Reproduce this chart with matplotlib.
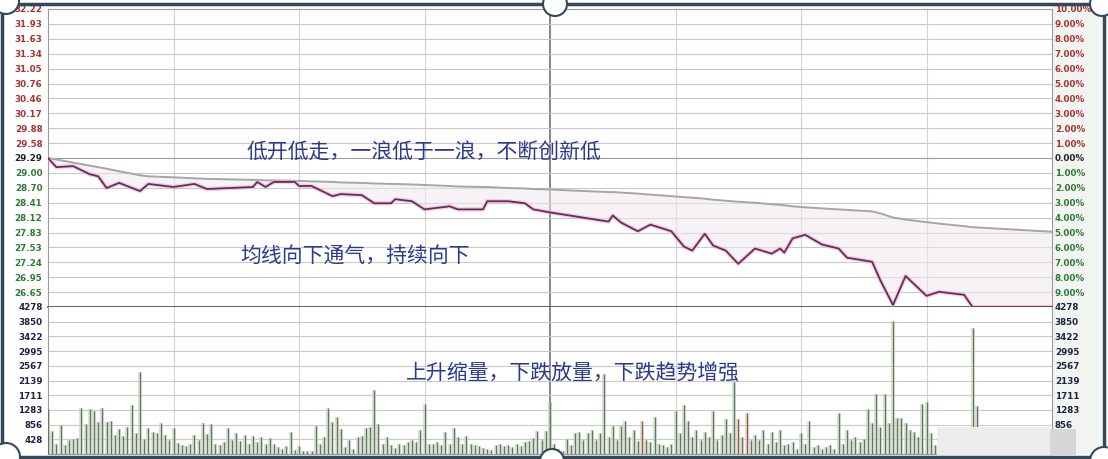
import matplotlib.pyplot as plt
from matplotlib.patches import Circle, Rectangle
import numpy as np

plt.rcParams['font.family'] = ['Noto Sans CJK SC', 'DejaVu Sans']

# intraday chart data
prev_close = 29.29

minutes = [0, 2, 6, 10, 12, 14, 17, 22, 24, 30, 35, 38, 49, 50, 52, 54, 59, 60, 63, 68,
           70, 75, 78, 82, 83, 87, 90, 96, 98, 104, 105, 110, 114, 116, 120, 134, 135, 137,
           141, 144, 149, 152, 154, 157, 159, 162, 165, 169, 173, 175, 176, 178, 181, 185,
           189, 191, 197, 199, 202, 205, 210, 213, 219, 221, 240]
price = [29.29, 29.11, 29.13, 28.97, 28.93, 28.70, 28.80, 28.64, 28.78, 28.72, 28.78, 28.68,
         28.72, 28.82, 28.72, 28.82, 28.82, 28.74, 28.74, 28.54, 28.58, 28.56, 28.40, 28.40,
         28.48, 28.44, 28.28, 28.34, 28.28, 28.28, 28.44, 28.44, 28.40, 28.28, 28.22, 28.04,
         28.16, 28.02, 27.85, 27.98, 27.85, 27.55, 27.47, 27.80, 27.57, 27.47, 27.21, 27.51,
         27.41, 27.51, 27.43, 27.71, 27.78, 27.59, 27.51, 27.33, 27.25, 26.88, 26.40, 26.97,
         26.58, 26.66, 26.60, 26.36, 26.36]
avg_price = [29.29, 29.26, 29.20, 29.14, 29.11, 29.08, 29.03, 28.95, 28.93, 28.91, 28.89,
             28.88, 28.86, 28.86, 28.85, 28.85, 28.84, 28.84, 28.83, 28.82, 28.81, 28.80,
             28.79, 28.78, 28.78, 28.77, 28.76, 28.74, 28.73, 28.72, 28.72, 28.70, 28.69,
             28.68, 28.67, 28.62, 28.62, 28.61, 28.59, 28.57, 28.54, 28.52, 28.51, 28.49,
             28.47, 28.45, 28.43, 28.41, 28.38, 28.37, 28.36, 28.34, 28.32, 28.30, 28.28,
             28.27, 28.24, 28.20, 28.12, 28.08, 28.03, 28.00, 27.95, 27.93, 27.84]

vol = [
    1310, 670, 300, 840, 250, 420, 440, 460, 1340, 870,
    1310, 1250, 930, 1340, 930, 960, 560, 730, 520, 790,
    1430, 600, 2390, 440, 760, 650, 600, 900, 560, 420,
    760, 330, 260, 230, 300, 550, 420, 900, 580, 870,
    300, 260, 350, 760, 420, 600, 380, 560, 300, 520,
    340, 500, 280, 460, 280, 200, 160, 220, 640, 120,
    240, 100, 90, 80, 820, 300, 500, 1340, 930, 1080,
    730, 200, 400, 150, 500, 520, 760, 800, 1870, 870,
    300, 500, 250, 180, 300, 260, 350, 400, 350, 700,
    1460, 300, 280, 350, 260, 640, 300, 760, 500, 280,
    520, 300, 250, 230, 180, 150, 120, 260, 300, 240,
    250, 200, 280, 230, 340, 380, 460, 660, 400, 660,
    1500, 300, 150, 100, 440, 250, 600, 640, 420, 600,
    700, 400, 600, 2330, 500, 815, 400, 815, 960, 500,
    700, 380, 960, 400, 350, 1080, 300, 250, 200, 300,
    1240, 600, 1430, 960, 500, 700, 400, 650, 500, 1240,
    400, 550, 1010, 600, 2090, 1010, 500, 1200, 400, 550,
    400, 700, 300, 650, 350, 700, 250, 300, 350, 150,
    600, 300, 960, 200, 250, 150, 200, 250, 150, 1200,
    300, 700, 400, 500, 350, 450, 1300, 900, 1750, 800,
    1750, 900, 3870, 1050, 1050, 900, 700, 650, 500, 1450,
    1500, 600, 250, 200, 300, 200, 250, 200, 150, 200,
    300, 3660, 1400, 80, 70, 80, 60, 70, 80, 60,
    70, 60, 80, 70, 60, 70, 60, 80, 70, 60,
    90,
]
red_bars = [142, 165, 167]

price_labels = ['32.22', '31.93', '31.63', '31.34', '31.05', '30.76', '30.46', '30.17',
                '29.88', '29.58', '29.29', '29.00', '28.70', '28.41', '28.12', '27.83',
                '27.53', '27.24', '26.95', '26.65']
pct_labels = ['10.00%', '9.00%', '8.00%', '7.00%', '6.00%', '5.00%', '4.00%', '3.00%',
              '2.00%', '1.00%', '0.00%', '1.00%', '2.00%', '3.00%', '4.00%', '5.00%',
              '6.00%', '7.00%', '8.00%', '9.00%']
vol_ticks = [4278, 3850, 3422, 2995, 2567, 2139, 1711, 1283, 856, 428]

note_top = '低开低走，一浪低于一浪，不断创新低'
note_mid = '均线向下通气，持续向下'
note_vol = '上升缩量，下跌放量，下跌趋势增强'

W, H = 1108, 460
fig = plt.figure(figsize=(W / 100, H / 100), dpi=100)
fig.patch.set_facecolor('white')

L, R = 48 / W, 1052 / W
top, mid, bot = 1 - 10 / H, 1 - 308 / H, 1 - 455 / H
ax_p = fig.add_axes([L, mid, R - L, top - mid])
ax_v = fig.add_axes([L, bot, R - L, mid - bot])

# right label column background
fig.patches.append(Rectangle((1052, 5), 50, 450, transform=None, facecolor='#f2f4f1',
                             edgecolor='none', zorder=-1))

levels = [prev_close * (1 + k / 100) for k in range(10, -11, -1)]
ax_p.set_ylim(levels[-1], levels[0])
ax_v.set_ylim(0, vol_ticks[0])
for ax in (ax_p, ax_v):
    ax.set_xlim(0, 240)
    ax.set_xticks([])
    ax.set_yticks([])
    for s in ax.spines.values():
        s.set_color('#9a9a9a')
        s.set_linewidth(0.8)
    for m in range(30, 240, 30):
        if m == 120:
            ax.axvline(m, color='#666666', lw=1.1, zorder=1)
        else:
            ax.axvline(m, color='#d2d2d2', lw=0.8, zorder=1)
ax_p.spines['bottom'].set_color('#555555')
ax_p.spines['bottom'].set_linewidth(1.3)
ax_v.spines['top'].set_visible(False)

for i, lv in enumerate(levels[1:-1]):
    ax_p.axhline(lv, color='#9c9c9c' if i == 9 else '#c9c9c9', lw=0.8, zorder=1)
for v in vol_ticks[1:]:
    ax_v.axhline(v, color='#c9c9c9', lw=0.8, zorder=1)

# price + average lines
ax_p.fill_between(minutes, price, avg_price, color='#f1e9ed', alpha=0.55, lw=0, zorder=2)
ax_p.plot(minutes, avg_price, color='#a6a6a6', lw=1.4, zorder=3)
ax_p.plot(minutes, price, color='#e3b9cf', lw=3.2, alpha=0.6, zorder=3)
ax_p.plot(minutes, price, color='#6b2a5c', lw=1.3, zorder=4)

# volume bars
x = np.arange(len(vol))
ax_v.vlines(x, 0, vol, color='#c3dcbd', lw=3.0, alpha=0.7, zorder=2)
cols = ['#b04848' if i in red_bars else '#6e6e6e' for i in x]
ax_v.vlines(x, 0, vol, colors=cols, lw=0.9, zorder=3)

# axis labels (left / right columns)
def lab_color(i):
    if i < 10:
        return '#a83232'
    if i == 10:
        return '#222222'
    return '#2f7a35'

fs = 6.3
for i, (lv, t) in enumerate(zip(levels[:-1], price_labels)):
    ax_p.annotate(t, (0, lv), xycoords=('axes fraction', 'data'), xytext=(-4, 0),
                  textcoords='offset points', ha='right', va='center', fontsize=fs,
                  fontweight='bold', color=lab_color(i), family='DejaVu Sans')
for i, (lv, t) in enumerate(zip(levels[:-1], pct_labels)):
    ax_p.annotate(t, (1, lv), xycoords=('axes fraction', 'data'), xytext=(2, 0),
                  textcoords='offset points', ha='left', va='center', fontsize=fs,
                  fontweight='bold', color=lab_color(i), family='DejaVu Sans')
for i, v in enumerate(vol_ticks):
    ax_v.annotate(str(v), (0, v), xycoords=('axes fraction', 'data'), xytext=(-4, 0),
                  textcoords='offset points', ha='right', va='center', fontsize=fs,
                  fontweight='bold', color='#1e2440', family='DejaVu Sans')
    if v != vol_ticks[-1]:
        ax_v.annotate(str(v), (1, v), xycoords=('axes fraction', 'data'), xytext=(2, 0),
                      textcoords='offset points', ha='left', va='center', fontsize=fs,
                      fontweight='bold', color='#1e2440', family='DejaVu Sans')

# notes
note_col = '#2b3a8f'
ax_p.text(47.5, 29.43, note_top, fontsize=15, color=note_col, va='center', ha='left', zorder=6)
ax_p.text(46, 27.37, note_mid, fontsize=15, color=note_col, va='center', ha='left', zorder=6)
ax_v.text(85.5, 2390, note_vol, fontsize=15, color=note_col, va='center', ha='left', zorder=6)

# watermark smear bottom right
fig.patches.append(Rectangle((937, 4), 113, 28, transform=None, facecolor='#ececec',
                             edgecolor='none', zorder=5))
fig.patches.append(Rectangle((1050, 4), 26, 26, transform=None, facecolor='#d6d6d6',
                             edgecolor='none', zorder=5))

# frame and round clips
fig.patches.append(Rectangle((2, 2), W - 6, H - 7, transform=None, facecolor='none',
                             edgecolor='#34485c', lw=2.5, zorder=7))
for cx, cy, r in [(6, 458, 13), (555, 455, 12), (1102, 455, 12),
                  (6, 2, 14), (552, -2, 12), (1104, -2, 14)]:
    fig.patches.append(Circle((cx, cy), r, transform=None, facecolor='white',
                              edgecolor='#34485c', lw=1.5, zorder=8))

fig.savefig('out.png', dpi=100)
